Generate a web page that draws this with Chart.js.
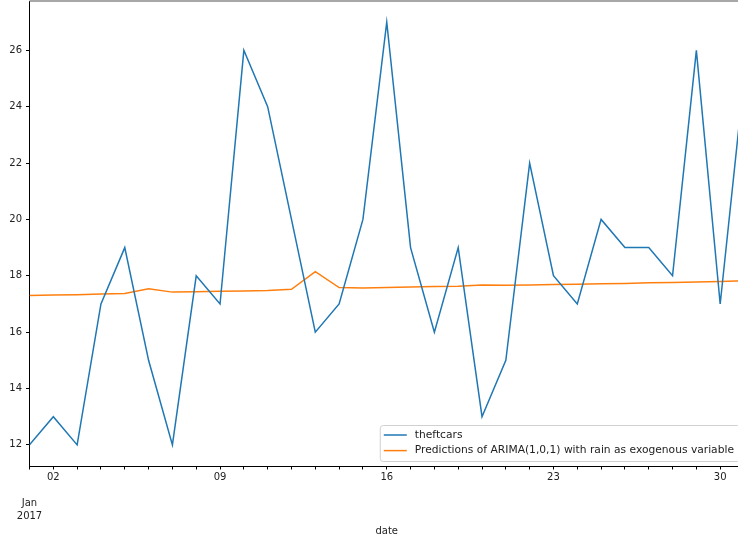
<!DOCTYPE html>
<html>
<head>
<meta charset="utf-8">
<script src="https://cdn.jsdelivr.net/npm/chart.js@4"></script>
<style>
  html, body { margin: 0; padding: 0; overflow: hidden; background: #fff; }
  #wrap { width: 760px; height: 542px; }
</style>
</head>
<body>
<div id="wrap"><canvas id="chart" width="760" height="542"></canvas></div>
<script>
// days of January 2017
const days = [1,2,3,4,5,6,7,8,9,10,11,12,13,14,15,16,17,18,19,20,21,22,23,24,25,26,27,28,29,30,31];
const theftcars = [12,13,12,17,19,15,12,18,17,26,24,20,16,17,20,27,19,16,19,13,15,22,18,17,20,19,19,18,26,17,25];
const predictions = [17.30,17.32,17.33,17.35,17.37,17.54,17.42,17.43,17.45,17.46,17.48,17.52,18.15,17.58,17.57,17.58,
  17.60,17.62,17.63,17.67,17.66,17.67,17.69,17.70,17.72,17.73,17.75,17.76,17.78,17.80,17.82];
const yTicks = [12,14,16,18,20,22,24,26];
const xTickLabels = { 1: ["", "", "Jan", "2017"], 2: "02", 9: "09", 16: "16", 23: "23", 30: "30" };

const font = { family: "DejaVu Sans", size: 10, lineHeight: 1.3 };

const spines = {
  id: "spines",
  afterDraw(c) {
    const { ctx, chartArea: a } = c;
    ctx.save();
    ctx.strokeStyle = "#8a8a8a";
    ctx.lineWidth = 1.5;
    ctx.beginPath();
    ctx.moveTo(a.left, a.top);
    ctx.lineTo(a.right, a.top);
    ctx.stroke();
    ctx.restore();
  }
};

const boxLegend = {
  id: "boxLegend",
  afterDraw(c) {
    const { ctx, chartArea: a } = c;
    const sets = c.data.datasets;
    ctx.save();
    ctx.font = "10.7px 'DejaVu Sans'";
    const maxW = Math.max(...sets.map(d => ctx.measureText(d.label).width));
    const right = a.right - 4, bottom = a.bottom - 5;
    const w = 4 + 23 + 8 + maxW + 6, h = 36;
    const left = right - w, top = bottom - h;
    ctx.fillStyle = "rgba(255,255,255,0.8)";
    ctx.strokeStyle = "#d0d0d0";
    ctx.lineWidth = 1;
    ctx.beginPath();
    ctx.roundRect(left + 0.5, top + 0.5, w, h, 3);
    ctx.fill();
    ctx.stroke();
    sets.forEach((d, i) => {
      const y = top + 10 + i * 15.6;
      ctx.strokeStyle = d.borderColor;
      ctx.lineWidth = 1.5;
      ctx.beginPath();
      ctx.moveTo(left + 4, y);
      ctx.lineTo(left + 27, y);
      ctx.stroke();
      ctx.fillStyle = "#222";
      ctx.textBaseline = "middle";
      ctx.fillText(d.label, left + 35, y);
    });
    ctx.restore();
  }
};

new Chart(document.getElementById("chart"), {
  type: "line",
  data: {
    datasets: [
      {
        label: "theftcars",
        data: days.map((d, i) => ({ x: d, y: theftcars[i] })),
        borderColor: "#1f77b4",
        borderWidth: 1.5,
        pointRadius: 0,
        tension: 0
      },
      {
        label: "Predictions of ARIMA(1,0,1) with rain as exogenous variable",
        data: days.map((d, i) => ({ x: d, y: predictions[i] })),
        borderColor: "#ff7f0e",
        borderWidth: 1.5,
        pointRadius: 0,
        tension: 0
      }
    ]
  },
  options: {
    responsive: false,
    animation: false,
    layout: { padding: { top: 1, right: 16, left: 0, bottom: 0 } },
    plugins: { legend: { display: false }, tooltip: { enabled: false } },
    scales: {
      x: {
        type: "linear",
        min: 1,
        max: 31,
        afterBuildTicks: s => { s.ticks = days.map(v => ({ value: v })); },
        afterFit: s => { s.height = 76; s.paddingLeft = 0; s.paddingRight = 0; },
        ticks: {
          autoSkip: false,
          maxRotation: 0,
          padding: 1,
          color: "#222",
          font: font,
          callback: v => xTickLabels[v] || ""
        },
        grid: { drawOnChartArea: false, tickLength: 3.5, tickColor: "#000", tickWidth: 1 },
        border: { color: "#000", width: 1 },
        title: { display: true, text: "date", color: "#222", font: font, padding: { top: 0, bottom: 4 } }
      },
      y: {
        min: 11.25,
        max: 27.75,
        afterBuildTicks: s => { s.ticks = yTicks.map(v => ({ value: v })); },
        afterFit: s => { s.width = 29.5; s.paddingTop = 0; s.paddingBottom = 0; },
        ticks: { padding: 4, color: "#222", font: font },
        grid: { drawOnChartArea: false, tickLength: 3.5, tickColor: "#000", tickWidth: 1 },
        border: { color: "#000", width: 1 }
      }
    }
  },
  plugins: [spines, boxLegend]
});
</script>
</body>
</html>
